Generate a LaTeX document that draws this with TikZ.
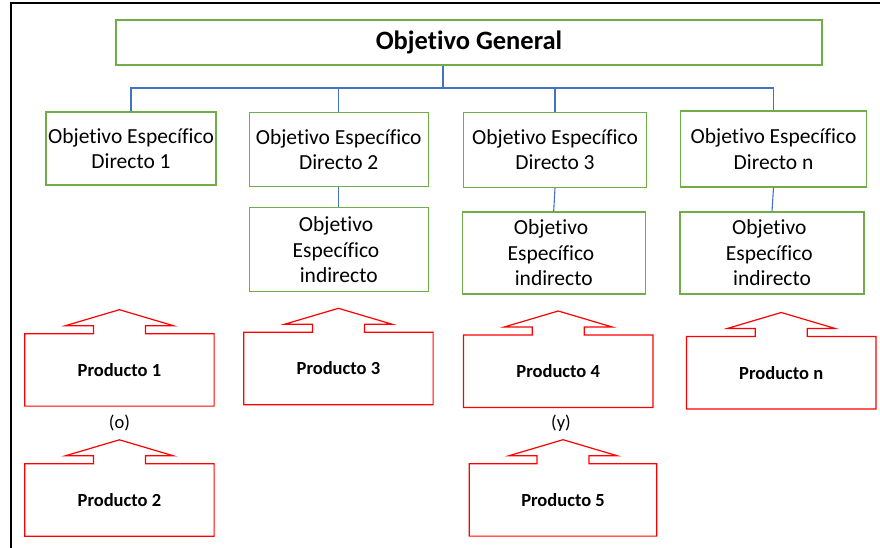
\documentclass[tikz,border=0pt]{standalone}
\usepackage{fontspec}
\setmainfont{Carlito}[Ligatures=NoCommon]
\definecolor{verde}{RGB}{112,173,71}
\definecolor{azul}{RGB}{68,114,196}
\definecolor{rojo}{RGB}{255,0,0}

\begin{document}
\begin{tikzpicture}[x=1pt, y=-1pt,
        objetivo/.style={draw=verde, line width=1.2pt, inner sep=0pt, align=center,
            font=\fontsize{21.5}{25.5}\selectfont},
        producto/.style={inner sep=0pt, minimum width=189pt, minimum height=72pt,
            font=\fontsize{18.5}{22}\selectfont\bfseries},
        flecha/.style={draw=rojo, line width=1.2pt, line join=miter},
        rama/.style={draw=azul, line width=1.1pt},
        nota/.style={inner sep=0pt, font=\fontsize{18.5}{22}\selectfont}]
        \useasboundingbox (0,0) rectangle (880,548);

        % Frame
        \draw[line width=2pt] (11,548) -- (11,3) -- (880,3);

        % Nodes
        \node (G) at (469,42.5) [objetivo, minimum width=706pt, minimum height=45pt,
            font=\fontsize{26.5}{30}\selectfont\bfseries] {Objetivo General};
        \node (D1) at (131,148.5) [objetivo, minimum width=170pt, minimum height=73pt] {Objetivo Específico\\Directo 1};
        \node (D2) at (338.7,149.5) [objetivo, minimum width=179pt, minimum height=74pt] {Objetivo Específico\\Directo 2};
        \node (D3) at (555,149.8) [objetivo, minimum width=183pt, minimum height=75pt] {Objetivo Específico\\Directo 3};
        \node (Dn) at (773.5,149) [objetivo, minimum width=186pt, minimum height=76pt] {Objetivo Específico\\Directo n};
        \node (I2) at (338.7,249.7) [objetivo, minimum width=179pt, minimum height=84pt] {Objetivo\kern0.25em\\Específico\kern0.25em\\indirecto};
        \node (I3) at (553.7,253) [objetivo, minimum width=183pt, minimum height=82pt] {Objetivo\kern0.25em\\Específico\kern0.25em\\indirecto};
        \node (In) at (772,253) [objetivo, minimum width=184pt, minimum height=82pt] {Objetivo\kern0.25em\\Específico\kern0.25em\\indirecto};
        \coordinate (bus) at (443,88);

        \node (P1) at (119.4,369.9) [producto] {Producto 1};
        \node (P2) at (119.4,500) [producto] {Producto 2};
        \node (P3) at (338.4,368.5) [producto] {Producto 3};
        \node (P4) at (558.2,371.2) [producto] {Producto 4};
        \node (Pn) at (781.2,372.7) [producto] {Producto n};
        \node (P5) at (563,499.9) [producto, minimum width=187pt] {Producto 5};
        \node (o) at (119.4,423) [nota] {(o)};
        \node (y) at (561,423) [nota] {(y)};

        % Edges
        \draw[rama] (G.south -| bus) -- (bus);
        \draw[rama] (D1.north) |- (bus) -| (Dn.north);
        \draw[rama] (D2.north) -- (D2.north |- bus);
        \draw[rama] (D3.north) -- (D3.north |- bus);
        \draw[rama] (D2.south) -- (I2.north);
        \draw[rama] (D3.south) -- (I3.north);
        \draw[rama] (Dn.south) -- (In.north);

        % Product arrows
        \draw[flecha] (P1.north west) -- ([xshift=-26pt]P1.north) -- ++(0,8pt) -- ++(-28pt,0) -- ([yshift=24pt]P1.north) -- ([xshift=54pt,yshift=8pt]P1.north) -- ++(-28pt,0) -- ([xshift=26pt]P1.north) -- (P1.north east) -- (P1.south east) -- (P1.south west) -- cycle;
        \draw[flecha] (P2.north west) -- ([xshift=-26pt]P2.north) -- ++(0,8pt) -- ++(-28pt,0) -- ([yshift=24pt]P2.north) -- ([xshift=54pt,yshift=8pt]P2.north) -- ++(-28pt,0) -- ([xshift=26pt]P2.north) -- (P2.north east) -- (P2.south east) -- (P2.south west) -- cycle;
        \draw[flecha] (P3.north west) -- ([xshift=-26pt]P3.north) -- ++(0,8pt) -- ++(-28pt,0) -- ([yshift=24pt]P3.north) -- ([xshift=54pt,yshift=8pt]P3.north) -- ++(-28pt,0) -- ([xshift=26pt]P3.north) -- (P3.north east) -- (P3.south east) -- (P3.south west) -- cycle;
        \draw[flecha] (P4.north west) -- ([xshift=-26pt]P4.north) -- ++(0,8pt) -- ++(-28pt,0) -- ([yshift=24pt]P4.north) -- ([xshift=54pt,yshift=8pt]P4.north) -- ++(-28pt,0) -- ([xshift=26pt]P4.north) -- (P4.north east) -- (P4.south east) -- (P4.south west) -- cycle;
        \draw[flecha] (Pn.north west) -- ([xshift=-26pt]Pn.north) -- ++(0,8pt) -- ++(-28pt,0) -- ([yshift=24pt]Pn.north) -- ([xshift=54pt,yshift=8pt]Pn.north) -- ++(-28pt,0) -- ([xshift=26pt]Pn.north) -- (Pn.north east) -- (Pn.south east) -- (Pn.south west) -- cycle;
        \draw[flecha] (P5.north west) -- ([xshift=-26pt]P5.north) -- ++(0,8pt) -- ++(-28pt,0) -- ([yshift=24pt]P5.north) -- ([xshift=54pt,yshift=8pt]P5.north) -- ++(-28pt,0) -- ([xshift=26pt]P5.north) -- (P5.north east) -- (P5.south east) -- (P5.south west) -- cycle;
    \end{tikzpicture}
\end{document}
